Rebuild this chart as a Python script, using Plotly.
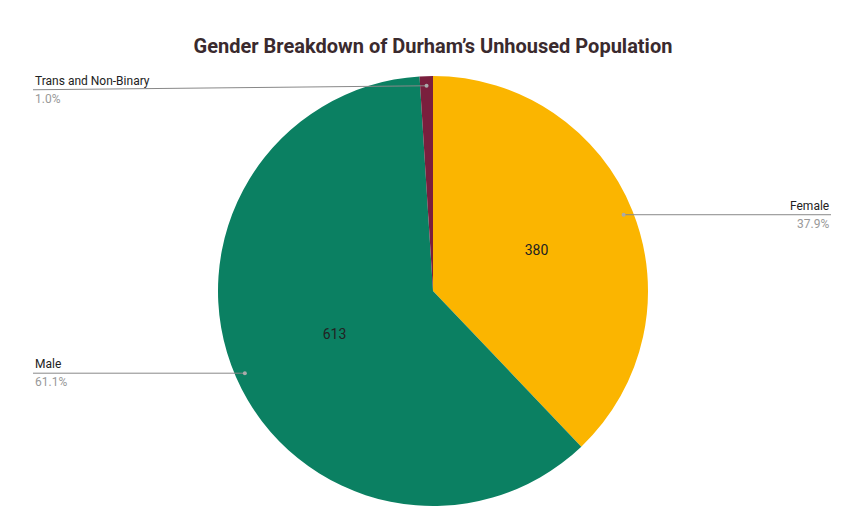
import math
import plotly.graph_objects as go

labels = ["Female", "Male", "Trans and Non-Binary"]
values = [380, 613, 10]
colors = ["#FBB500", "#0B8062", "#7A1F3D"]
inside_text = ["380", "613", ""]

W, H = 850, 525
cx, cy, R = 425, 283, 215

fig = go.Figure(go.Pie(
    labels=labels, values=values, sort=False, direction="clockwise", rotation=0,
    marker=dict(colors=colors),
    text=inside_text, textinfo="text", textposition="inside",
    insidetextorientation="horizontal",
    textfont=dict(family="Roboto", size=14, color="#222"),
    domain=dict(x=[(cx - R) / W, (cx + R) / W], y=[1 - (cy + R) / H, 1 - (cy - R) / H]),
    showlegend=False, hoverinfo="label+value+percent",
))

# leader lines with outside labels
total = sum(values)
cum = 0
shapes, annots = [], []
for lab, v in zip(labels, values):
    mid = (cum + v / 2) / total * 2 * math.pi
    cum += v
    px_ = cx + 0.955 * R * math.sin(mid)
    py_ = cy - 0.955 * R * math.cos(mid)
    right = math.sin(mid) > 0
    ex = 823 if right else 25
    ey = py_ if lab != "Trans and Non-Binary" else py_ + 4
    pct = f"{v / total * 100:.1f}%"
    shapes.append(dict(type="line", xref="paper", yref="paper",
                       x0=px_ / W, y0=1 - py_ / H, x1=ex / W, y1=1 - ey / H,
                       line=dict(color="#888", width=1)))
    shapes.append(dict(type="circle", xref="paper", yref="paper",
                       x0=(px_ - 2) / W, x1=(px_ + 2) / W, y0=1 - (py_ + 2) / H, y1=1 - (py_ - 2) / H,
                       fillcolor="#aaa", line=dict(width=0)))
    anchor = "right" if right else "left"
    annots.append(dict(x=ex / W, y=1 - ey / H, xref="paper", yref="paper", text=lab,
                       showarrow=False, xanchor=anchor, yanchor="bottom",
                       font=dict(family="Roboto", size=12, color="#222")))
    annots.append(dict(x=ex / W, y=1 - ey / H, xref="paper", yref="paper", text=pct,
                       showarrow=False, xanchor=anchor, yanchor="top",
                       font=dict(family="Roboto", size=12, color="#999")))

fig.update_layout(
    width=W, height=H, margin=dict(l=0, r=0, t=0, b=0),
    paper_bgcolor="white",
    title=dict(text="<b>Gender Breakdown of Durham’s Unhoused Population</b>",
               x=0.5, xanchor="center", y=1 - 38 / H, yanchor="middle",
               font=dict(family="Roboto", size=20, color="#3a2a2e")),
    shapes=shapes, annotations=annots,
)

fig.write_html("out.html")
